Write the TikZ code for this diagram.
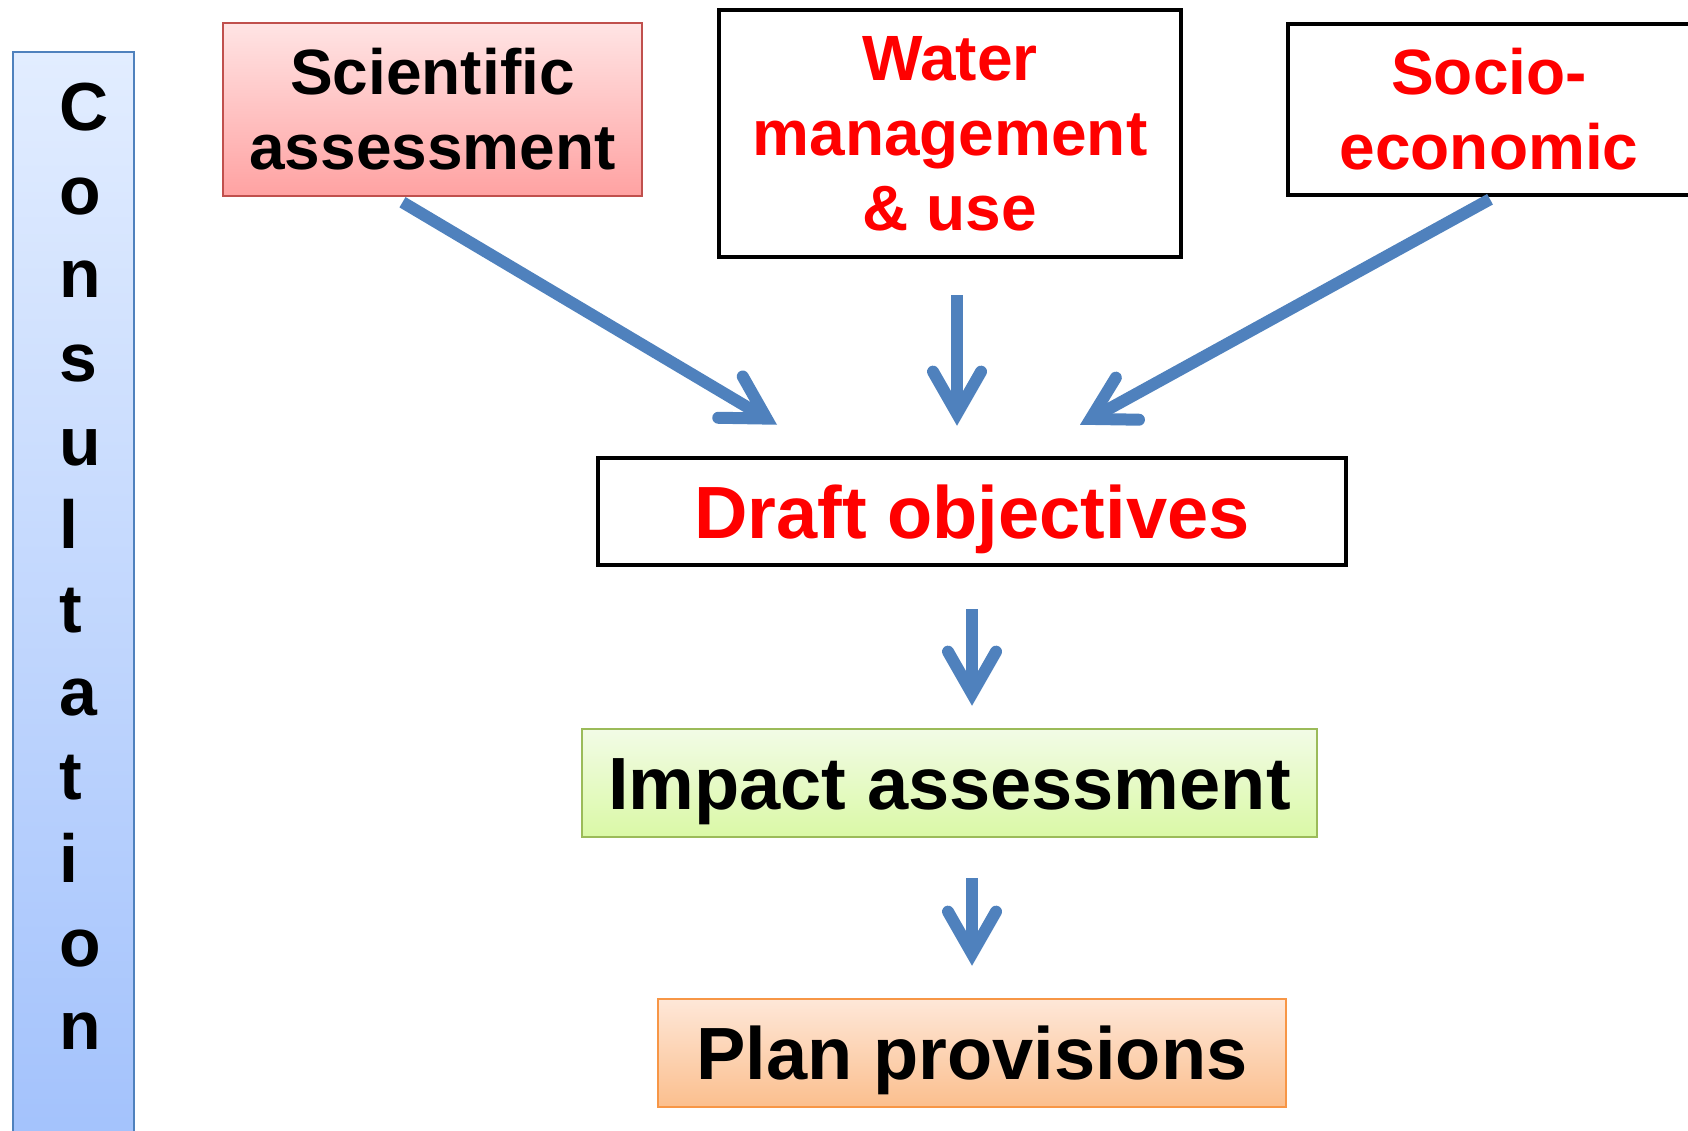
\documentclass[tikz,border=0pt]{standalone}
\usepackage{fontspec}
\setmainfont{Liberation Sans}
\usetikzlibrary{arrows.meta}

\definecolor{flowblue}{RGB}{79,129,189}
\definecolor{sciedge}{RGB}{192,80,77}
\definecolor{impactedge}{RGB}{155,187,89}
\definecolor{planedge}{RGB}{247,150,70}

\tikzset{
  box/.style={draw, line width=2.5pt, inner sep=0pt, align=center,
    font=\bfseries\fontsize{64pt}{75pt}\selectfont},
  redbox/.style={box, draw=black, line width=4.5pt, fill=white, text=red},
  big/.style={font=\bfseries\fontsize{74pt}{86pt}\selectfont, text height=53pt, text depth=0pt},
  sci/.style={draw=sciedge, top color={rgb,255:red,255;green,228;blue,228}, bottom color={rgb,255:red,255;green,162;blue,162}},
  impact/.style={draw=impactedge, top color={rgb,255:red,242;green,251;blue,230}, bottom color={rgb,255:red,218;green,249;blue,166}},
  plan/.style={draw=planedge, top color={rgb,255:red,254;green,231;blue,216}, bottom color={rgb,255:red,251;green,191;blue,142}},
  barbox/.style={draw=flowblue, line width=2.5pt, inner sep=0pt,
    top color={rgb,255:red,226;green,237;blue,255}, bottom color={rgb,255:red,163;green,194;blue,252}},
  letter/.style={anchor=base west, inner sep=0pt, font=\bfseries\fontsize{68pt}{80pt}\selectfont},
  flow/.style={draw=flowblue, line width=12pt,
    -{Straight Barb[length=42pt,width=48pt,line cap=round,line join=miter]}},
}

\begin{document}
\begin{tikzpicture}[x=1pt,y=-1pt]
  \useasboundingbox (0,0) rectangle (1688,1131);
  % consultation bar
  \node[barbox, minimum width=121pt, minimum height=1090pt] (bar) at (73.5,597) {};
  \foreach \ch [count=\i] in {C,o,n,s,u,l,t,a,t,i,o,n}
    \node[letter] (ch\i) at (59,{131+83.5*(\i-1)}) {\ch};
  % inputs
  \node[box, sci, minimum width=419pt, minimum height=173pt] (sci) at (432.5,109.5) {Scientific\\assessment};
  \node[redbox, minimum width=462pt, minimum height=247pt] (water) at (950,133.5) {Water\\management\\\& use};
  \node[redbox, minimum width=402pt, minimum height=171pt] (socio) at (1489,109.5) {Socio-\\economic};
  % steps
  \node[redbox, big, minimum width=748pt, minimum height=107pt] (draft) at (972,511.5) {Draft objectives};
  \node[box, impact, big, minimum width=735pt, minimum height=108pt] (impact) at (949.5,783) {Impact assessment};
  \node[box, plan, big, minimum width=628pt, minimum height=108pt] (plan) at (972,1053) {Plan provisions};
  % arrows
  \draw[flow] ([xshift=-30pt,yshift=-5pt]sci.south) -- ([xshift=-195pt,yshift=31pt]draft.north);
  \draw[flow] ([xshift=7pt,yshift=-36pt]water.south) -- ([xshift=-15pt,yshift=30pt]draft.north);
  \draw[flow] ([xshift=1pt,yshift=-2pt]socio.south) -- ([xshift=108pt,yshift=31pt]draft.north);
  \draw[flow] ([yshift=-42pt]draft.south) -- ([xshift=22.5pt,yshift=22pt]impact.north);
  \draw[flow] ([xshift=22.5pt,yshift=-40pt]impact.south) -- ([yshift=32pt]plan.north);
\end{tikzpicture}
\end{document}
